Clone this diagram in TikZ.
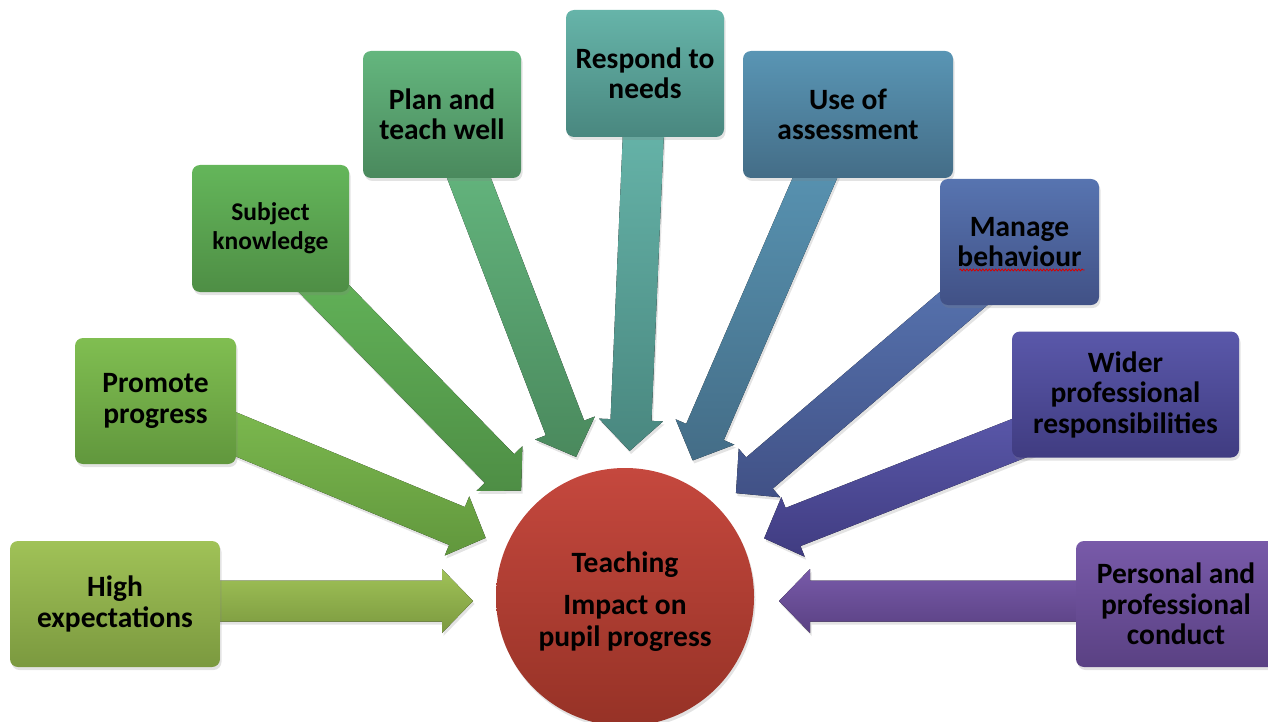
\documentclass[tikz,border=0pt]{standalone}
\usepackage{fontspec}
\setmainfont{Carlito}
\usetikzlibrary{calc,shadows,decorations.pathmorphing}
\pgfdeclarelayer{bg}
\pgfsetlayers{bg,main}

\definecolor{hiT}{HTML}{A0C257}\definecolor{hiB}{HTML}{7B993F}
\definecolor{prT}{HTML}{80BE51}\definecolor{prB}{HTML}{61973D}
\definecolor{suT}{HTML}{64B65A}\definecolor{suB}{HTML}{4E8E45}
\definecolor{plT}{HTML}{64B67E}\definecolor{plB}{HTML}{4A895D}
\definecolor{reT}{HTML}{66B4A9}\definecolor{reB}{HTML}{49877F}
\definecolor{usT}{HTML}{5995B4}\definecolor{usB}{HTML}{446D87}
\definecolor{maT}{HTML}{5774B0}\definecolor{maB}{HTML}{415186}
\definecolor{wiT}{HTML}{5A58AA}\definecolor{wiB}{HTML}{403C81}
\definecolor{peT}{HTML}{785AA9}\definecolor{peB}{HTML}{5A4183}
\definecolor{ciT}{HTML}{C5483E}\definecolor{ciB}{HTML}{963226}

\tikzset{
  softshadow/.style={drop shadow={opacity=0.22, shadow xshift=1.5pt, shadow yshift=-3pt}},
  box/.style={rounded corners=8pt, inner sep=0pt, align=center, text=black,
    font=\fontsize{29.5}{30.5}\selectfont\bfseries, softshadow},
  hubstyle/.style={circle, inner sep=0pt, minimum size=258pt, align=center,
    font=\fontsize{29.5}{32}\selectfont\bfseries, softshadow,
    top color=ciT, bottom color=ciB},
  squiggle/.style={draw=red!85!black, line width=0.8pt, decorate,
    decoration={snake, amplitude=0.9pt, segment length=3.2pt}}
}

% #1 start, #2 base of head, #3 top colour, #4 bottom colour
\newcommand\bigarrow[4]{%
  \fill[top color=#3, bottom color=#4, softshadow]
    ($(#1)!20.5pt!90:(#2)$) -- ($(#2)!20.5pt!-90:(#1)$) -- ($(#2)!32pt!-90:(#1)$)
    -- ($(#2)!-31pt!(#1)$) -- ($(#2)!32pt!90:(#1)$) -- ($(#2)!20.5pt!90:(#1)$)
    -- ($(#1)!20.5pt!-90:(#2)$) -- cycle;}

\begin{document}
\begin{tikzpicture}[x=1pt, y=-1pt]
\useasboundingbox (0,0) rectangle (1268,722);

% boxes
\node[box, minimum width=210pt, minimum height=126pt, top color=hiT, bottom color=hiB] (high) at (115,604) {High\\expectations};
\node[box, minimum width=161pt, minimum height=126pt, top color=prT, bottom color=prB] (promote) at (155.5,401) {Promote\\progress};
\node[box, minimum width=157pt, minimum height=127pt, top color=suT, bottom color=suB, font=\fontsize{25.5}{29}\selectfont\bfseries] (subject) at (270.5,228.5) {Subject\\knowledge};
\node[box, minimum width=158pt, minimum height=127pt, top color=plT, bottom color=plB] (plan) at (442,114.5) {Plan and\\teach well};
\node[box, minimum width=158pt, minimum height=127pt, top color=reT, bottom color=reB] (respond) at (645,73.5) {Respond to\\needs};
\node[box, minimum width=210pt, minimum height=127pt, top color=usT, bottom color=usB] (use) at (848,114.5) {Use of\\assessment};
\node[box, minimum width=159pt, minimum height=126pt, top color=maT, bottom color=maB] (manage) at (1019.5,242) {Manage\\behaviour};
\node[box, minimum width=227pt, minimum height=126pt, top color=wiT, bottom color=wiB] (wider) at (1125.5,394.5) {Wider\\professional\\responsibilities};
\node[box, minimum width=200pt, minimum height=126pt, top color=peT, bottom color=peB] (personal) at (1176,604) {Personal and\\professional\\conduct};

% hub
\node[hubstyle] (hub) at (625,597) {\rule{0pt}{30pt}Teaching\\[10pt]Impact on\\pupil progress};

% spell-check squiggle under "behaviour"
\draw[squiggle] ($(manage.center)+(-60,28)$) -- ($(manage.center)+(65,28)$);

% arrow start points (inside the boxes) and head bases (near the hub)
\coordinate (sHigh) at ($(high.center)+(85,-3)$);
\coordinate (sPromote) at (promote.center);
\coordinate (sSubject) at ($(subject.center)+(26.5,32.5)$);
\coordinate (sPlan) at ($(plan.center)+(20,45.5)$);
\coordinate (sRespond) at ($(respond.center)+(-1,46.5)$);
\coordinate (sUse) at ($(use.center)+(-21,35.5)$);
\coordinate (sManage) at ($(manage.center)+(-36.5,40)$);
\coordinate (sWider) at ($(wider.center)+(-85.5,35.5)$);
\coordinate (sPersonal) at ($(personal.center)+(-76,-3)$);

\coordinate (bHigh) at (442,601);
\coordinate (bPromote) at (457,526);
\coordinate (bSubject) at (499.5,468.5);
\coordinate (bPlan) at (565,428);
\coordinate (bRespond) at (631,420);
\coordinate (bUse) at (705,432);
\coordinate (bManage) at (759.5,473);
\coordinate (bWider) at (793,527);
\coordinate (bPersonal) at (810,601);

\begin{pgfonlayer}{bg}
\bigarrow{sHigh}{bHigh}{hiT}{hiB}
\bigarrow{sPromote}{bPromote}{prT}{prB}
\bigarrow{sSubject}{bSubject}{suT}{suB}
\bigarrow{sPlan}{bPlan}{plT}{plB}
\bigarrow{sRespond}{bRespond}{reT}{reB}
\bigarrow{sUse}{bUse}{usT}{usB}
\bigarrow{sManage}{bManage}{maT}{maB}
\bigarrow{sWider}{bWider}{wiT}{wiB}
\bigarrow{sPersonal}{bPersonal}{peT}{peB}
\end{pgfonlayer}
\end{tikzpicture}
\end{document}
